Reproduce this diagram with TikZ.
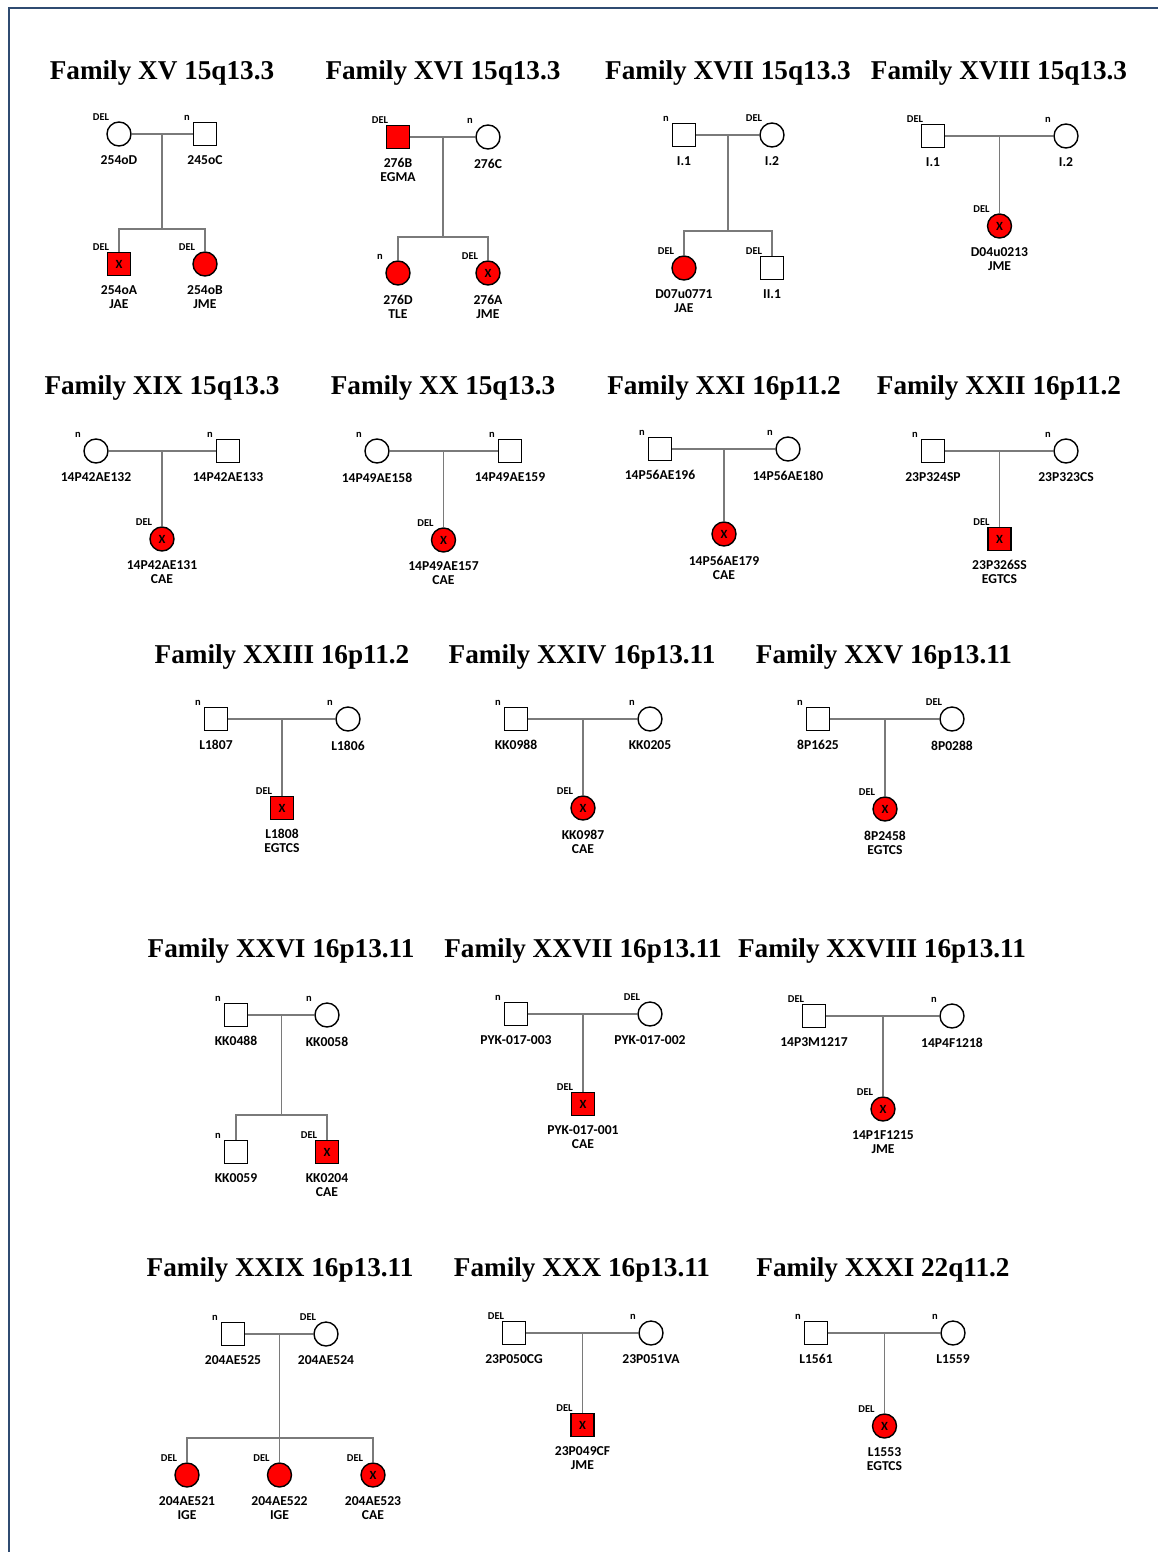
\documentclass[tikz,border=0pt]{standalone}
\usepackage{fontspec}
\usepackage{tikz}
\usetikzlibrary{calc}

\newfontfamily\titlefamily{Liberation Serif}
\newfontfamily\labelfamily{Carlito}
\newcommand{\titlefont}{\titlefamily\bfseries\fontsize{27.2}{30}\selectfont}
\newcommand{\idfont}{\labelfamily\bfseries\fontsize{13.6}{14}\selectfont}
\newcommand{\tagfont}{\labelfamily\bfseries\fontsize{10.5}{11}\selectfont}
\newcommand{\xfont}{\labelfamily\bfseries\fontsize{12.5}{12.5}\selectfont}

\definecolor{framecol}{HTML}{2F4B71}
\definecolor{linegray}{HTML}{7A7A7A}

\begin{document}
\begin{tikzpicture}[
    x=1pt, y=-1pt,
    male/.style={draw, line width=1.4pt, rectangle, minimum size=23pt, inner sep=0pt, fill=white},
    female/.style={draw, line width=1.4pt, circle, minimum size=24pt, inner sep=0pt, fill=white},
    affected/.style={fill=red, font=\xfont},
    gtag/.style={font=\tagfont, inner sep=0pt, xshift=-18pt},
    pname/.style={font=\idfont, inner sep=0pt, align=center, yshift=-8pt},
    link/.style={draw=linegray, line width=1.4pt},
    title/.style={font=\titlefont, anchor=base},
    label distance=1pt
]
    \useasboundingbox (0,0) rectangle (1157,1552);
    \draw[framecol, line width=2.2pt] (9,1560) -- (9,8) -- (1165,8);

    % Family XV
    \node[title] (t15) at (162,80) {Family XV 15q13.3};
    \node[female, label={[gtag]above:DEL}, label={[pname]below:254oD}] (f15a) at (119,134) {};
    \node[male, label={[gtag]above:n}, label={[pname]below:245oC}] (f15b) at (205,134) {};
    \node[male, affected, label={[gtag]above:DEL}, label={[pname]below:254oA\\JAE}] (f15c) at (119,264) {X};
    \node[female, affected, label={[gtag]above:DEL}, label={[pname]below:254oB\\JME}] (f15d) at (205,264) {};
    \coordinate (f15m) at ($(f15a)!.5!(f15b)$);
    \coordinate (f15s) at (162,229);
    \draw[link] (f15a) -- (f15b);
    \draw[link] (f15m) -- (f15s);
    \draw[link] (f15c) |- (f15s) -| (f15d);

    % Family XVI
    \node[title] (t16) at (443,80) {Family XVI 15q13.3};
    \node[male, affected, label={[gtag]above:DEL}, label={[pname]below:276B\\EGMA}] (f16a) at (398,137) {};
    \node[female, label={[gtag]above:n}, label={[pname]below:276C}] (f16b) at (488,137) {};
    \node[female, affected, label={[gtag]above:n}, label={[pname]below:276D\\TLE}] (f16c) at (398,273) {};
    \node[female, affected, label={[gtag]above:DEL}, label={[pname]below:276A\\JME}] (f16d) at (488,273) {X};
    \coordinate (f16m) at ($(f16a)!.5!(f16b)$);
    \coordinate (f16s) at (443,237);
    \draw[link] (f16a) -- (f16b);
    \draw[link] (f16m) -- (f16s);
    \draw[link] (f16c) |- (f16s) -| (f16d);

    % Family XVII
    \node[title] (t17) at (728,80) {Family XVII 15q13.3};
    \node[male, label={[gtag]above:n}, label={[pname]below:I.1}] (f17a) at (684,135) {};
    \node[female, label={[gtag]above:DEL}, label={[pname]below:I.2}] (f17b) at (772,135) {};
    \node[female, affected, label={[gtag]above:DEL}, label={[pname]below:D07u0771\\JAE}] (f17c) at (684,268) {};
    \node[male, label={[gtag]above:DEL}, label={[pname]below:II.1}] (f17d) at (772,268) {};
    \coordinate (f17m) at ($(f17a)!.5!(f17b)$);
    \coordinate (f17s) at (728,231);
    \draw[link] (f17a) -- (f17b);
    \draw[link] (f17m) -- (f17s);
    \draw[link] (f17c) |- (f17s) -| (f17d);

    % Family XVIII
    \node[title] (t18) at (999,80) {Family XVIII 15q13.3};
    \node[male, label={[gtag]above:DEL}, label={[pname]below:I.1}] (f18a) at (933,136) {};
    \node[female, label={[gtag]above:n}, label={[pname]below:I.2}] (f18b) at (1066,136) {};
    \node[female, affected, label={[gtag]above:DEL}, label={[pname]below:D04u0213\\JME}] (f18c) at (999.5,226) {X};
    \coordinate (f18m) at ($(f18a)!.5!(f18b)$);
    \draw[link] (f18a) -- (f18b);
    \draw[link] (f18m) -- (f18c);

    % Family XIX
    \node[title] (t19) at (162,394) {Family XIX 15q13.3};
    \node[female, label={[gtag]above:n}, label={[pname]below:14P42AE132}] (f19a) at (96,451) {};
    \node[male, label={[gtag]above:n}, label={[pname]below:14P42AE133}] (f19b) at (228,451) {};
    \node[female, affected, label={[gtag]above:DEL}, label={[pname]below:14P42AE131\\CAE}] (f19c) at (162,539) {X};
    \coordinate (f19m) at ($(f19a)!.5!(f19b)$);
    \draw[link] (f19a) -- (f19b);
    \draw[link] (f19m) -- (f19c);

    % Family XX
    \node[title] (t20) at (443,394) {Family XX 15q13.3};
    \node[female, label={[gtag]above:n}, label={[pname]below:14P49AE158}] (f20a) at (377,451) {};
    \node[male, label={[gtag]above:n}, label={[pname]below:14P49AE159}] (f20b) at (510,451) {};
    \node[female, affected, label={[gtag]above:DEL}, label={[pname]below:14P49AE157\\CAE}] (f20c) at (443.5,540) {X};
    \coordinate (f20m) at ($(f20a)!.5!(f20b)$);
    \draw[link] (f20a) -- (f20b);
    \draw[link] (f20m) -- (f20c);

    % Family XXI
    \node[title] (t21) at (724,394) {Family XXI 16p11.2};
    \node[male, label={[gtag]above:n}, label={[pname]below:14P56AE196}] (f21a) at (660,449) {};
    \node[female, label={[gtag]above:n}, label={[pname]below:14P56AE180}] (f21b) at (788,449) {};
    \node[female, affected, label={[pname]below:14P56AE179\\CAE}] (f21c) at (724,534) {X};
    \coordinate (f21m) at ($(f21a)!.5!(f21b)$);
    \draw[link] (f21a) -- (f21b);
    \draw[link] (f21m) -- (f21c);

    % Family XXII
    \node[title] (t22) at (999,394) {Family XXII 16p11.2};
    \node[male, label={[gtag]above:n}, label={[pname]below:23P324SP}] (f22a) at (933,451) {};
    \node[female, label={[gtag]above:n}, label={[pname]below:23P323CS}] (f22b) at (1066,451) {};
    \node[male, affected, label={[gtag]above:DEL}, label={[pname]below:23P326SS\\EGTCS}] (f22c) at (999.5,539) {X};
    \coordinate (f22m) at ($(f22a)!.5!(f22b)$);
    \draw[link] (f22a) -- (f22b);
    \draw[link] (f22m) -- (f22c);

    % Family XXIII
    \node[title] (t23) at (282,663) {Family XXIII 16p11.2};
    \node[male, label={[gtag]above:n}, label={[pname]below:L1807}] (f23a) at (216,719) {};
    \node[female, label={[gtag]above:n}, label={[pname]below:L1806}] (f23b) at (348,719) {};
    \node[male, affected, label={[gtag]above:DEL}, label={[pname]below:L1808\\EGTCS}] (f23c) at (282,808) {X};
    \coordinate (f23m) at ($(f23a)!.5!(f23b)$);
    \draw[link] (f23a) -- (f23b);
    \draw[link] (f23m) -- (f23c);

    % Family XXIV
    \node[title] (t24) at (582,663) {Family XXIV 16p13.11};
    \node[male, label={[gtag]above:n}, label={[pname]below:KK0988}] (f24a) at (516,719) {};
    \node[female, label={[gtag]above:n}, label={[pname]below:KK0205}] (f24b) at (650,719) {};
    \node[female, affected, label={[gtag]above:DEL}, label={[pname]below:KK0987\\CAE}] (f24c) at (583,808) {X};
    \coordinate (f24m) at ($(f24a)!.5!(f24b)$);
    \draw[link] (f24a) -- (f24b);
    \draw[link] (f24m) -- (f24c);

    % Family XXV
    \node[title] (t25) at (884,663) {Family XXV 16p13.11};
    \node[male, label={[gtag]above:n}, label={[pname]below:8P1625}] (f25a) at (818,719) {};
    \node[female, label={[gtag]above:DEL}, label={[pname]below:8P0288}] (f25b) at (952,719) {};
    \node[female, affected, label={[gtag]above:DEL}, label={[pname]below:8P2458\\EGTCS}] (f25c) at (885,809) {X};
    \coordinate (f25m) at ($(f25a)!.5!(f25b)$);
    \draw[link] (f25a) -- (f25b);
    \draw[link] (f25m) -- (f25c);

    % Family XXVI
    \node[title] (t26) at (281,957) {Family XXVI 16p13.11};
    \node[male, label={[gtag]above:n}, label={[pname]below:KK0488}] (f26a) at (236,1015) {};
    \node[female, label={[gtag]above:n}, label={[pname]below:KK0058}] (f26b) at (327,1015) {};
    \node[male, label={[gtag]above:n}, label={[pname]below:KK0059}] (f26c) at (236,1152) {};
    \node[male, affected, label={[gtag]above:DEL}, label={[pname]below:KK0204\\CAE}] (f26d) at (327,1152) {X};
    \coordinate (f26m) at ($(f26a)!.5!(f26b)$);
    \coordinate (f26s) at (281.5,1115);
    \draw[link] (f26a) -- (f26b);
    \draw[link] (f26m) -- (f26s);
    \draw[link] (f26c) |- (f26s) -| (f26d);

    % Family XXVII
    \node[title] (t27) at (583,957) {Family XXVII 16p13.11};
    \node[male, label={[gtag]above:n}, label={[pname]below:PYK-017-003}] (f27a) at (516,1014) {};
    \node[female, label={[gtag]above:DEL}, label={[pname]below:PYK-017-002}] (f27b) at (650,1014) {};
    \node[male, affected, label={[gtag]above:DEL}, label={[pname]below:PYK-017-001\\CAE}] (f27c) at (583,1104) {X};
    \coordinate (f27m) at ($(f27a)!.5!(f27b)$);
    \draw[link] (f27a) -- (f27b);
    \draw[link] (f27m) -- (f27c);

    % Family XXVIII
    \node[title] (t28) at (882,957) {Family XXVIII 16p13.11};
    \node[male, label={[gtag]above:DEL}, label={[pname]below:14P3M1217}] (f28a) at (814,1016) {};
    \node[female, label={[gtag]above:n}, label={[pname]below:14P4F1218}] (f28b) at (952,1016) {};
    \node[female, affected, label={[gtag]above:DEL}, label={[pname]below:14P1F1215\\JME}] (f28c) at (883,1109) {X};
    \coordinate (f28m) at ($(f28a)!.5!(f28b)$);
    \draw[link] (f28a) -- (f28b);
    \draw[link] (f28m) -- (f28c);

    % Family XXIX
    \node[title] (t29) at (280,1276) {Family XXIX 16p13.11};
    \node[male, label={[gtag]above:n}, label={[pname]below:204AE525}] (f29a) at (233,1334) {};
    \node[female, label={[gtag]above:DEL}, label={[pname]below:204AE524}] (f29b) at (326,1334) {};
    \node[female, affected, label={[gtag]above:DEL}, label={[pname]below:204AE521\\IGE}] (f29c) at (187,1475) {};
    \node[female, affected, label={[gtag]above:DEL}, label={[pname]below:204AE522\\IGE}] (f29d) at (279.5,1475) {};
    \node[female, affected, label={[gtag]above:DEL}, label={[pname]below:204AE523\\CAE}] (f29e) at (373,1475) {X};
    \coordinate (f29m) at ($(f29a)!.5!(f29b)$);
    \coordinate (f29s) at (279.5,1438);
    \draw[link] (f29a) -- (f29b);
    \draw[link] (f29m) -- (f29d);
    \draw[link] (f29c) |- (f29s) -| (f29e);

    % Family XXX
    \node[title] (t30) at (582,1276) {Family XXX 16p13.11};
    \node[male, label={[gtag]above:DEL}, label={[pname]below:23P050CG}] (f30a) at (514,1333) {};
    \node[female, label={[gtag]above:n}, label={[pname]below:23P051VA}] (f30b) at (651,1333) {};
    \node[male, affected, label={[gtag]above:DEL}, label={[pname]below:23P049CF\\JME}] (f30c) at (582.5,1425) {X};
    \coordinate (f30m) at ($(f30a)!.5!(f30b)$);
    \draw[link] (f30a) -- (f30b);
    \draw[link] (f30m) -- (f30c);

    % Family XXXI
    \node[title] (t31) at (883,1276) {Family XXXI 22q11.2};
    \node[male, label={[gtag]above:n}, label={[pname]below:L1561}] (f31a) at (816,1333) {};
    \node[female, label={[gtag]above:n}, label={[pname]below:L1559}] (f31b) at (953,1333) {};
    \node[female, affected, label={[gtag]above:DEL}, label={[pname]below:L1553\\EGTCS}] (f31c) at (884.5,1426) {X};
    \coordinate (f31m) at ($(f31a)!.5!(f31b)$);
    \draw[link] (f31a) -- (f31b);
    \draw[link] (f31m) -- (f31c);

\end{tikzpicture}
\end{document}
